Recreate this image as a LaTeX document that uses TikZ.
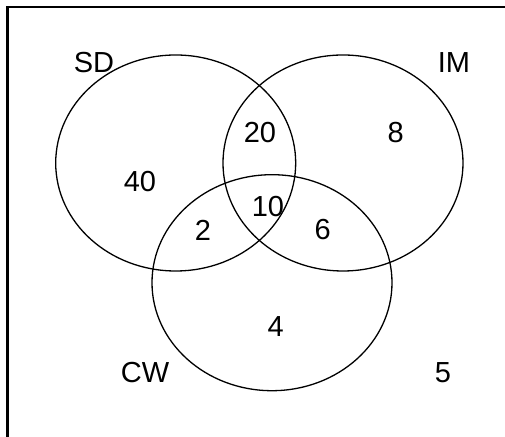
\documentclass[tikz,border=0pt]{standalone}
\usepackage{fontspec}
\setmainfont{Liberation Sans}
\usetikzlibrary{shapes.geometric}

\begin{document}
\begin{tikzpicture}[
		x=0.5pt, y=-0.5pt,
		every node/.style={font=\fontsize{14.5}{17}\selectfont},
		set/.style={ellipse, draw, line width=0.65pt, minimum width=120pt, minimum height=108pt, inner sep=0pt}
	]
  \useasboundingbox (0,0) rectangle (505,437);
  \draw[line width=1pt] (7.5,437) -- (7.5,7) -- (505,7);
  \node (SD) [set] at (175.7,163) {};
  \node (IM) [set] at (343,163) {};
  \node (CW) [set] at (272,282.7) {};
  \node (SD_label) at (94,63) {SD};
  \node (IM_label) at (454,63) {IM};
  \node (CW_label) at (145,373) {CW};
  \node (n_40) at (140,181.7) {40};
  \node (n_20) at (260,133) {20};
  \node (n_8) at (395.7,133) {8};
  \node (n_10) at (268,206.7) {10};
  \node (n_2) at (203,230) {2};
  \node (n_6) at (322.7,230) {6};
  \node (n_4) at (275.7,326.7) {4};
  \node (n_5) at (443,373) {5};
\end{tikzpicture}
\end{document}
